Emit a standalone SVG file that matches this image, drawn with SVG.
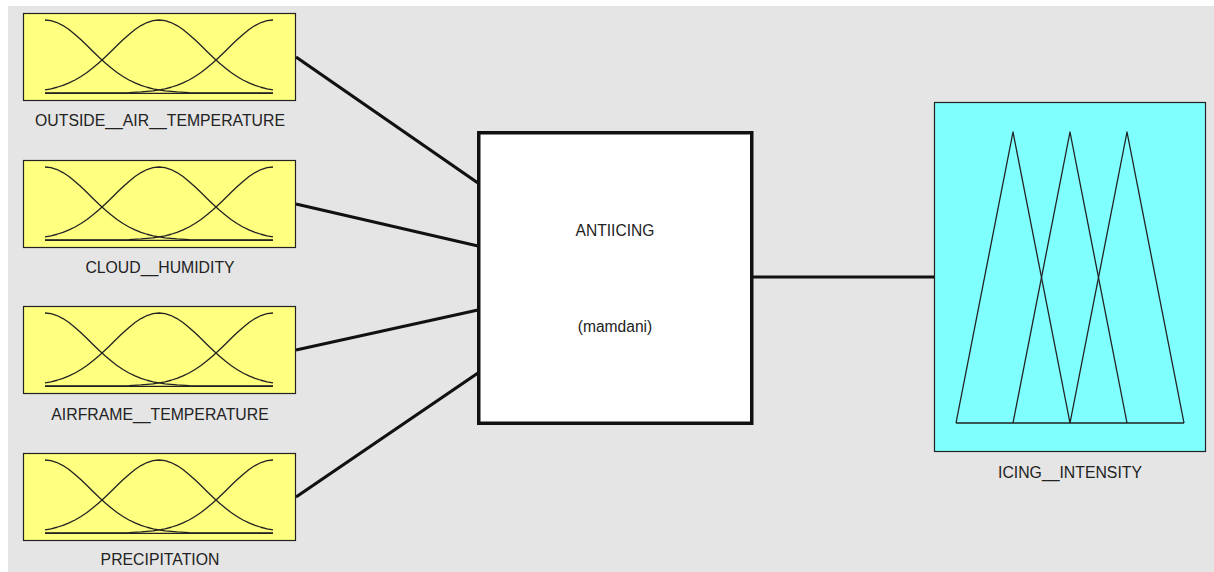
<svg xmlns="http://www.w3.org/2000/svg" xmlns:xlink="http://www.w3.org/1999/xlink" width="1214" height="572" viewBox="0 0 1214 572">
<style>
.bg{fill:#e5e5e5}
.inbox{fill:#ffff80;stroke:#222;stroke-width:1.2}
.outbox{fill:#80ffff;stroke:#222;stroke-width:1.2}
.sys{fill:#ffffff;stroke:#111;stroke-width:3.5}
.mf{fill:none;stroke:#222;stroke-width:1.3;stroke-linejoin:round}
.conn{stroke:#111;stroke-width:3.2;fill:none;stroke-linecap:butt}
.lbl{font-family:"Liberation Sans",Arial,sans-serif;font-size:15.8px;fill:#222;text-anchor:middle}
.sysl{font-family:"Liberation Sans",Arial,sans-serif;font-size:15.6px;fill:#222;text-anchor:middle}
</style>
<defs>
<polyline id="lc" class="mf" points="22,7 28,7.64 34,9.53 40,12.56 46,16.58 52,21.41 58,26.82 64,32.56 70,38.43 76,44.2 82,49.71 88,54.82 94,59.44 100,63.49 106,66.98 112,69.92 118,72.32 124,74.25 130,75.78 136,76.95 142,77.84 154,78.97 166,79.54 178,79.81 190,79.93 250,80"/>
<g id="mfset">
<use xlink:href="#lc" href="#lc"/>
<use xlink:href="#lc" href="#lc" transform="matrix(-1 0 0 1 272 0)"/>
<polyline class="mf" points="22,76.95 28,75.78 34,74.25 40,72.32 46,69.92 52,66.98 58,63.49 64,59.44 70,54.82 76,49.71 82,44.2 88,38.43 94,32.56 100,26.82 106,21.41 112,16.58 118,12.56 124,9.53 130,7.64 136,7 142,7.64 148,9.53 154,12.56 160,16.58 166,21.41 172,26.82 178,32.56 184,38.43 190,44.2 196,49.71 202,54.82 208,59.44 214,63.49 220,66.98 226,69.92 232,72.32 238,74.25 244,75.78 250,76.95"/>
<line class="mf" x1="22" y1="80.3" x2="250" y2="80.3"/>
</g>
</defs>
<rect class="bg" x="8" y="6" width="1206" height="566"/>
<g id="connectors">
<line class="conn" x1="296" y1="57" x2="478" y2="183"/>
<line class="conn" x1="296" y1="204" x2="478" y2="246"/>
<line class="conn" x1="296" y1="350" x2="478" y2="310"/>
<line class="conn" x1="296" y1="497" x2="478" y2="373"/>
<line class="conn" x1="753" y1="277" x2="934" y2="277"/>
</g>
<g id="outside_air_temperature">
<rect class="inbox" x="23.5" y="13.5" width="272" height="87"/>
<use xlink:href="#mfset" href="#mfset" x="23" y="13"/>
<text class="lbl" x="160" y="126">OUTSIDE__AIR__TEMPERATURE</text>
</g>
<g id="cloud_humidity">
<rect class="inbox" x="23.5" y="160.5" width="272" height="87"/>
<use xlink:href="#mfset" href="#mfset" x="23" y="160"/>
<text class="lbl" x="160" y="273">CLOUD__HUMIDITY</text>
</g>
<g id="airframe_temperature">
<rect class="inbox" x="23.5" y="306.5" width="272" height="87"/>
<use xlink:href="#mfset" href="#mfset" x="23" y="306"/>
<text class="lbl" x="160" y="420">AIRFRAME__TEMPERATURE</text>
</g>
<g id="precipitation">
<rect class="inbox" x="23.5" y="453.5" width="272" height="87"/>
<use xlink:href="#mfset" href="#mfset" x="23" y="453"/>
<text class="lbl" x="160" y="565">PRECIPITATION</text>
</g>
<g id="antiicing">
<rect class="sys" x="478.75" y="132.75" width="273" height="290.5"/>
<text class="sysl" x="615" y="236">ANTIICING</text>
<text class="sysl" x="615" y="332">(mamdani)</text>
</g>
<g id="icing_intensity">
<rect class="outbox" x="934.5" y="102.5" width="271" height="349"/>
<polyline class="mf" points="956,423 1013,132 1070,423"/>
<polyline class="mf" points="1013,423 1070,132 1127,423"/>
<polyline class="mf" points="1070,423 1127,132 1184,423"/>
<line class="mf" x1="956" y1="423" x2="1184" y2="423"/>
<text class="lbl" x="1070" y="478">ICING__INTENSITY</text>
</g>
</svg>
